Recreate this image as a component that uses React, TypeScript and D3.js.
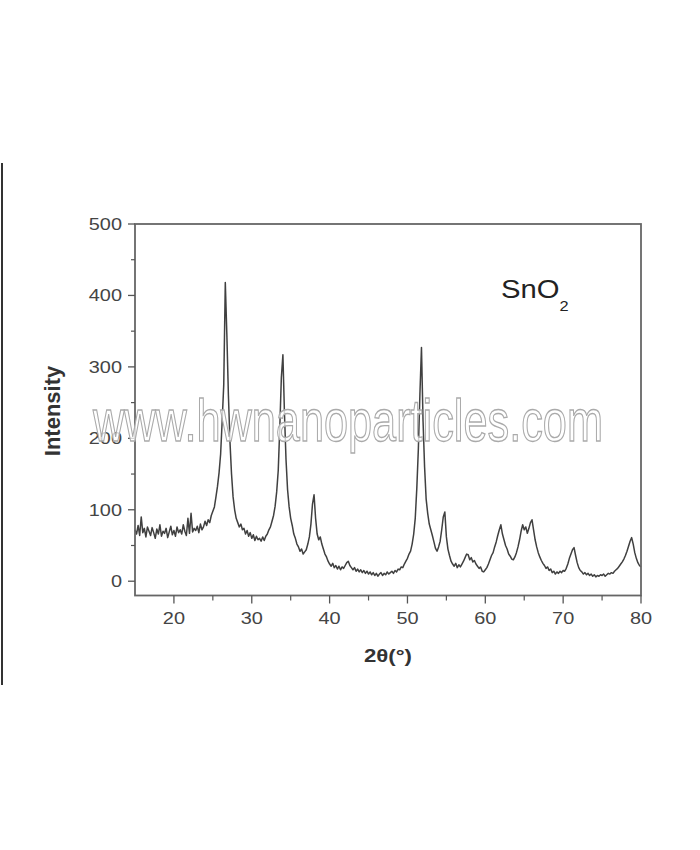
import * as d3 from 'd3';

// XRD pattern of SnO2, sampled every 0.2 deg from 15 to 80 (2θ)
const twoThetaStart = 15;
const twoThetaStep = 0.2;
const intensity = [
  72, 66, 78, 64, 90, 68, 74, 62, 76, 70, // 15.0
  64, 75, 68, 60, 73, 66, 79, 63, 70, 67, // 17.0
  74, 61, 69, 77, 65, 71, 63, 76, 68, 72, // 19.0
  66, 79, 70, 64, 88, 67, 95, 69, 74, 71, // 21.0
  77, 68, 80, 72, 76, 84, 78, 86, 82, 92, // 23.0
  98, 104, 118, 133, 152, 178, 225, 275, 418, 345, // 25.0
  260, 195, 150, 118, 100, 88, 82, 76, 80, 72, // 27.0
  74, 66, 71, 63, 68, 60, 65, 57, 63, 58, // 29.0
  60, 56, 62, 57, 63, 66, 72, 76, 84, 92, // 31.0
  105, 125, 155, 215, 285, 317, 235, 170, 128, 104, // 33.0
  88, 78, 66, 60, 52, 48, 42, 45, 38, 41, // 35.0
  44, 52, 62, 80, 108, 121, 88, 66, 58, 62, // 37.0
  52, 45, 38, 34, 28, 24, 21, 25, 19, 22, // 39.0
  17, 21, 16, 20, 18, 22, 26, 28, 22, 19, // 41.0
  16, 19, 14, 17, 13, 16, 12, 15, 11, 14, // 43.0
  10, 13, 9, 12, 8, 11, 7, 10, 12, 8, // 45.0
  11, 9, 13, 10, 12, 14, 11, 15, 13, 17, // 47.0
  16, 20, 19, 24, 28, 32, 38, 42, 52, 66, // 49.0
  88, 130, 185, 262, 327, 225, 160, 115, 95, 80, // 51.0
  72, 64, 55, 46, 42, 48, 56, 72, 90, 97, // 53.0
  62, 45, 36, 28, 24, 21, 25, 19, 23, 20, // 55.0
  24, 28, 33, 38, 37, 30, 33, 27, 29, 24, // 57.0
  21, 18, 20, 14, 13, 16, 19, 24, 30, 36, // 59.0
  40, 48, 55, 64, 72, 79, 66, 58, 50, 45, // 61.0
  38, 35, 31, 30, 34, 40, 48, 58, 70, 79, // 63.0
  72, 76, 67, 74, 82, 86, 72, 58, 48, 40, // 65.0
  34, 29, 25, 22, 18, 20, 15, 17, 12, 14, // 67.0
  10, 13, 11, 14, 12, 15, 14, 18, 24, 32, // 69.0
  38, 44, 47, 36, 26, 19, 15, 13, 10, 12, // 71.0
  9, 11, 8, 10, 7, 9, 6, 8, 7, 9, // 73.0
  8, 10, 7, 9, 11, 10, 12, 11, 14, 16, // 75.0
  18, 21, 24, 27, 31, 36, 42, 49, 56, 61, // 77.0
  52, 40, 32, 26, 22, 20, // 79.0 - 80.0
];

const yTicks = [0, 100, 200, 300, 400, 500];
const yMinorTicks = [50, 150, 250, 350, 450];
const xTicks = [20, 30, 40, 50, 60, 70, 80];
const xMinorTicks = [25, 35, 45, 55, 65, 75];

const left = 135, right = 641, top = 224, bottom = 595.5;
const font = 'Liberation Sans, Arial, sans-serif';
const stretch = 1.17;

export default function App() {
  const x = d3.scaleLinear().domain([15, 80]).range([left, right]);
  const y = d3.scaleLinear().domain([-20, 500]).range([bottom, top]);

  const line = d3.line<number>()
    .x((_, i) => x(twoThetaStart + i * twoThetaStep))
    .y(d => y(d));

  return (
    <svg width={700} height={850} style={{ position: 'absolute', left: 0, top: 0 }}>
      <defs>
        <filter id="soft" x="-5%" y="-5%" width="110%" height="110%">
          <feGaussianBlur stdDeviation={0.45} />
        </filter>
      </defs>
      <rect width={700} height={850} fill="#fff" />
      <line x1={2} x2={2} y1={163} y2={685} stroke="#333" strokeWidth={2} />

      {/* data */}
      <path d={line(intensity) || ''} fill="none" stroke="#404040" strokeWidth={1.5}
        strokeLinejoin="round" filter="url(#soft)" />

      {/* frame */}
      <rect x={left} y={top} width={right - left} height={bottom - top} fill="none" stroke="#666" strokeWidth={1.8} />

      {/* y ticks */}
      {yTicks.map(t => (
        <g key={'y' + t}>
          <line x1={left - 7} x2={left} y1={y(t)} y2={y(t)} stroke="#555" strokeWidth={1.3} />
          <text transform={`translate(122,${y(t) + 6}) scale(${stretch},1)`} textAnchor="end"
            fontFamily={font} fontSize={17} fill="#444">{t}</text>
        </g>
      ))}
      {yMinorTicks.map(t => (
        <line key={'ym' + t} x1={left - 4} x2={left} y1={y(t)} y2={y(t)} stroke="#555" strokeWidth={1.2} />
      ))}

      {/* x ticks */}
      {xTicks.map(t => (
        <g key={'x' + t}>
          <line x1={x(t)} x2={x(t)} y1={bottom} y2={bottom + 8} stroke="#555" strokeWidth={1.3} />
          <text transform={`translate(${x(t)},624) scale(${stretch},1)`} textAnchor="middle"
            fontFamily={font} fontSize={17} fill="#444">{t}</text>
        </g>
      ))}
      {xMinorTicks.map(t => (
        <line key={'xm' + t} x1={x(t)} x2={x(t)} y1={bottom} y2={bottom + 5} stroke="#555" strokeWidth={1.2} />
      ))}

      {/* axis titles */}
      <text transform="translate(60,411) rotate(-90)" textAnchor="middle" fontFamily={font}
        fontSize={22} fontWeight="bold" fill="#333">Intensity</text>
      <text transform={`translate(388,662) scale(${stretch},1)`} textAnchor="middle" fontFamily={font}
        fontSize={19} fontWeight="bold" fill="#333">2θ(°)</text>

      {/* sample label */}
      <text transform={`translate(501,298) scale(${stretch},1)`} fontFamily={font} fontSize={25} fill="#222">
        SnO<tspan dy={13} fontSize={14}>2</tspan>
      </text>

      {/* watermark */}
      <text x={93} y={441} fontFamily={font} fontSize={60} textLength={510} lengthAdjust="spacingAndGlyphs"
        fill="#fff" fillOpacity={0.75} stroke="#aaa" strokeWidth={1.4}>www.hwnanoparticles.com</text>
    </svg>
  );
}
